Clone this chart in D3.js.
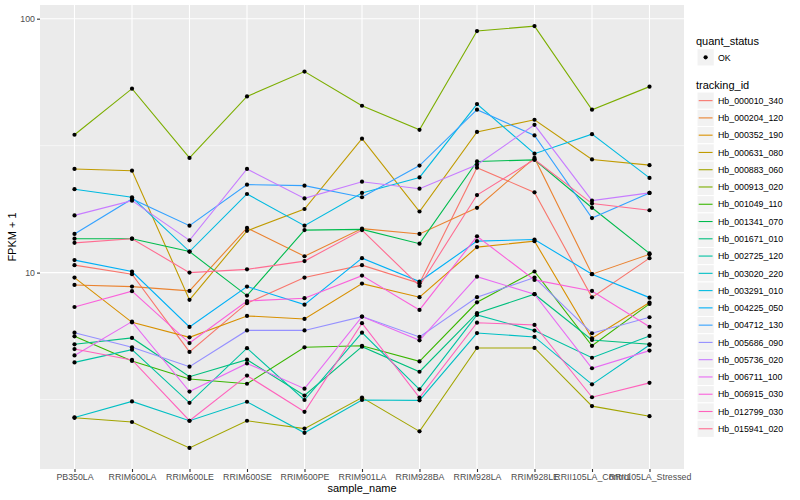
<!DOCTYPE html>
<html>
<head>
<meta charset="utf-8">
<script src="https://cdn.jsdelivr.net/npm/d3@7"></script>
<style>
  body { margin: 0; background: #fff; }
  text { font-family: "Liberation Sans", Arial, sans-serif; }
</style>
</head>
<body>
<svg width="800" height="500"></svg>
<script>

// sample names on the x axis
var samples = ["PB350LA", "RRIM600LA", "RRIM600LE", "RRIM600SE", "RRIM600PE", "RRIM901LA",
  "RRIM928BA", "RRIM928LA", "RRIM928LE", "RRII105LA_Control", "RRII105LA_Stressed"];

var trackingIds = ["Hb_000010_340", "Hb_000204_120", "Hb_000352_190", "Hb_000631_080", "Hb_000883_060",
  "Hb_000913_020", "Hb_001049_110", "Hb_001341_070", "Hb_001671_010", "Hb_002725_120",
  "Hb_003020_220", "Hb_003291_010", "Hb_004225_050", "Hb_004712_130", "Hb_005686_090",
  "Hb_005736_020", "Hb_006711_100", "Hb_006915_030", "Hb_012799_030", "Hb_015941_020"];

// FPKM + 1, one value per sample
var hb_000010_340 = [10.7, 9.86, 4.87, 7.58, 9.56, 10.7, 9.08, 25.9, 20.7, 7.99, 11.4];
var hb_000204_120 = [8.94, 8.81, 8.47, 15.0, 11.6, 14.9, 14.2, 18.0, 28.3, 9.86, 11.8];
var hb_000352_190 = [9.56, 6.37, 5.56, 6.75, 6.57, 9.05, 8.0, 12.6, 13.3, 5.51, 7.62];
var hb_000631_080 = [25.6, 25.2, 7.81, 14.6, 17.8, 33.7, 17.4, 35.8, 40.0, 27.9, 26.5];
var hb_000883_060 = [2.68, 2.58, 2.04, 2.61, 2.43, 3.22, 2.37, 5.05, 5.05, 2.98, 2.72];
var hb_000913_020 = [34.9, 53.0, 28.3, 49.4, 61.9, 45.4, 36.5, 89.4, 93.5, 43.8, 54.0];
var hb_001049_110 = [5.61, 4.49, 3.81, 3.65, 5.08, 5.15, 4.47, 7.64, 10.1, 5.15, 7.53];
var hb_001341_070 = [13.6, 13.6, 12.1, 8.12, 14.7, 14.8, 13.0, 27.4, 27.8, 18.0, 11.9];
var hb_001671_010 = [5.22, 5.53, 3.89, 4.54, 3.28, 5.11, 4.07, 6.92, 8.22, 5.43, 5.22];
var hb_002725_120 = [4.43, 4.97, 3.07, 5.04, 3.15, 5.80, 3.47, 6.81, 5.91, 4.62, 5.63];
var hb_003020_220 = [2.69, 3.11, 2.61, 3.10, 2.34, 3.15, 3.14, 5.78, 5.58, 3.63, 5.19];
var hb_003291_010 = [21.3, 19.8, 12.1, 20.4, 15.3, 20.6, 23.7, 46.1, 29.4, 35.1, 23.6];
var hb_004225_050 = [11.2, 10.1, 6.11, 8.81, 7.48, 11.4, 9.22, 13.3, 13.5, 9.86, 7.97];
var hb_004712_130 = [14.2, 19.5, 15.3, 22.2, 22.0, 19.8, 26.4, 43.8, 34.7, 16.4, 20.6];
var hb_005686_090 = [5.80, 5.08, 4.26, 5.92, 5.92, 6.71, 5.58, 8.0, 9.56, 5.77, 6.67];
var hb_005736_020 = [16.8, 19.2, 13.4, 25.6, 19.6, 22.8, 21.4, 26.6, 38.2, 19.2, 20.6];
var hb_006711_100 = [4.72, 6.41, 3.40, 4.39, 3.49, 6.71, 5.41, 9.64, 8.22, 4.20, 4.93];
var hb_006915_030 = [7.32, 8.45, 5.28, 7.73, 7.93, 9.73, 7.13, 13.9, 9.36, 8.47, 6.12];
var hb_012799_030 = [5.0, 4.53, 2.61, 3.93, 2.83, 6.32, 3.22, 6.35, 6.22, 3.23, 3.68];
var hb_015941_020 = [13.1, 13.6, 10.0, 10.3, 11.1, 14.7, 8.86, 20.2, 27.9, 18.7, 17.6];

var seriesValues = [hb_000010_340, hb_000204_120, hb_000352_190, hb_000631_080, hb_000883_060,
  hb_000913_020, hb_001049_110, hb_001341_070, hb_001671_010, hb_002725_120,
  hb_003020_220, hb_003291_010, hb_004225_050, hb_004712_130, hb_005686_090,
  hb_005736_020, hb_006711_100, hb_006915_030, hb_012799_030, hb_015941_020];

var series = trackingIds.map(function(id, i) {
  return { id: id, values: samples.map(function(s, j) { return { sample: s, v: seriesValues[i][j] }; }) };
});

// ggplot default hue palette, 20 levels
var palette = ["#F8766D", "#EA8331", "#D89000", "#C09B00", "#A3A500", "#7CAE00", "#39B600", "#00BB4E",
  "#00BF7D", "#00C1A3", "#00BFC4", "#00BAE0", "#00B0F6", "#35A2FF", "#9590FF", "#C77CFF",
  "#E76BF3", "#FA62DB", "#FF62BC", "#FF6C91"];

var svg = d3.select("svg");
var panel = { left: 40, right: 684, top: 5, bottom: 469 };

var x = d3.scalePoint().domain(samples).range([panel.left, panel.right]).padding(0.6);

var allLog = [];
seriesValues.forEach(function(a) { a.forEach(function(v) { allLog.push(Math.log10(v)); }); });
var ext = d3.extent(allLog), pad = (ext[1] - ext[0]) * 0.05;
var y = d3.scaleLog()
  .domain([Math.pow(10, ext[0] - pad), Math.pow(10, ext[1] + pad)])
  .range([panel.bottom, panel.top]);

var color = d3.scaleOrdinal().domain(trackingIds).range(palette);

// panel background and grid
svg.append("rect")
  .attr("x", panel.left).attr("y", panel.top)
  .attr("width", panel.right - panel.left).attr("height", panel.bottom - panel.top)
  .attr("fill", "#EBEBEB");

var minorY = [Math.pow(10, 0.5), Math.pow(10, 1.5)];
svg.selectAll(".minor").data(minorY).enter().append("line")
  .attr("x1", panel.left).attr("x2", panel.right)
  .attr("y1", function(d) { return y(d); }).attr("y2", function(d) { return y(d); })
  .attr("stroke", "#fff").attr("stroke-width", 0.55);

svg.selectAll(".majory").data([10, 100]).enter().append("line")
  .attr("x1", panel.left).attr("x2", panel.right)
  .attr("y1", function(d) { return y(d); }).attr("y2", function(d) { return y(d); })
  .attr("stroke", "#fff").attr("stroke-width", 1.1);

svg.selectAll(".majorx").data(samples).enter().append("line")
  .attr("x1", function(d) { return x(d); }).attr("x2", function(d) { return x(d); })
  .attr("y1", panel.top).attr("y2", panel.bottom)
  .attr("stroke", "#fff").attr("stroke-width", 1.1);

// lines then points
var line = d3.line()
  .x(function(d) { return x(d.sample); })
  .y(function(d) { return y(d.v); });

svg.append("g").selectAll("path").data(series).enter().append("path")
  .attr("d", function(d) { return line(d.values); })
  .attr("fill", "none")
  .attr("stroke", function(d) { return color(d.id); })
  .attr("stroke-width", 1.1);

svg.append("g").selectAll("g").data(series).enter().append("g")
  .selectAll("circle").data(function(d) { return d.values; }).enter().append("circle")
  .attr("cx", function(d) { return x(d.sample); })
  .attr("cy", function(d) { return y(d.v); })
  .attr("r", 2.1)
  .attr("fill", "#000");

// axes
var xAxis = svg.append("g")
  .attr("transform", "translate(0," + panel.bottom + ")")
  .call(d3.axisBottom(x).tickSize(3).tickPadding(2));
var yAxis = svg.append("g")
  .attr("transform", "translate(" + panel.left + ",0)")
  .call(d3.axisLeft(y).tickValues([10, 100]).tickFormat(d3.format("d")).tickSize(3).tickPadding(2));

[xAxis, yAxis].forEach(function(a) {
  a.select(".domain").remove();
  a.selectAll(".tick line").attr("stroke", "#333").attr("stroke-width", 1.1);
  a.selectAll(".tick text").attr("fill", "#4D4D4D").style("font-size", "8.8px")
    .style("font-family", "'Liberation Sans', Arial, sans-serif");
});

svg.append("text")
  .attr("x", (panel.left + panel.right) / 2).attr("y", 492)
  .attr("text-anchor", "middle").style("font-size", "11px").attr("fill", "#000")
  .text("sample_name");

svg.append("text")
  .attr("transform", "translate(16," + (panel.top + panel.bottom) / 2 + ") rotate(-90)")
  .attr("text-anchor", "middle").style("font-size", "11px").attr("fill", "#000")
  .text("FPKM + 1");

// legends
var legend = svg.append("g").attr("transform", "translate(697,0)");
var keySize = 17.27;

legend.append("text").attr("x", -1).attr("y", 45).style("font-size", "11px").text("quant_status");
legend.append("rect").attr("x", 0).attr("y", 48.7).attr("width", keySize).attr("height", keySize)
  .attr("fill", "#F2F2F2").attr("stroke", "#fff");
legend.append("circle").attr("cx", keySize / 2).attr("cy", 48.7 + keySize / 2).attr("r", 2.1).attr("fill", "#000");
legend.append("text").attr("x", 21).attr("y", 48.7 + keySize / 2 + 3.2).style("font-size", "8.8px").text("OK");

legend.append("text").attr("x", -1).attr("y", 88.5).style("font-size", "11px").text("tracking_id");

var keys = legend.selectAll(".key").data(trackingIds).enter().append("g")
  .attr("transform", function(d, i) { return "translate(0," + (92 + i * keySize) + ")"; });
keys.append("rect").attr("width", keySize).attr("height", keySize)
  .attr("fill", "#F2F2F2").attr("stroke", "#fff");
keys.append("line").attr("x1", 1.7).attr("x2", keySize - 1.7)
  .attr("y1", keySize / 2).attr("y2", keySize / 2)
  .attr("stroke", function(d) { return color(d); }).attr("stroke-width", 1.1);
keys.append("text").attr("x", 21).attr("y", keySize / 2 + 3.2)
  .style("font-size", "8.8px").text(function(d) { return d; });

</script>
</body>
</html>
